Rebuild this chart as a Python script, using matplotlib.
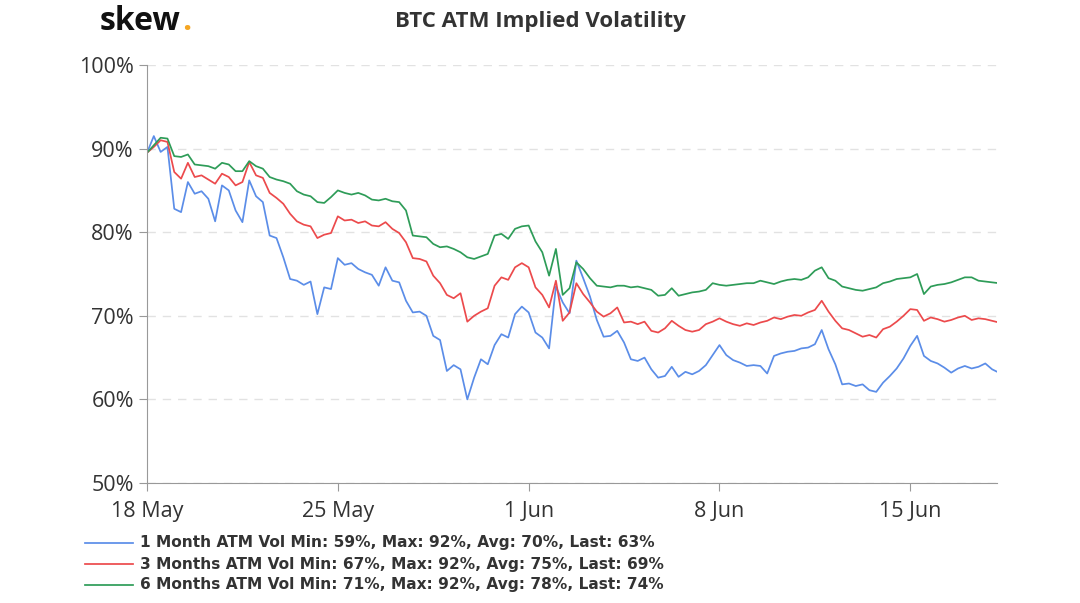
import matplotlib.pyplot as plt
from matplotlib.lines import Line2D
import numpy as np

# time axis: days since 18 May, one value every 6 hours
days = np.arange(126) * 0.25

vol_1m = [89.5, 91.5, 89.6, 90.2, 82.8, 82.4, 86.0, 84.6, 84.9, 84.0,
          81.3, 85.6, 85.0, 82.6, 81.2, 86.2, 84.3, 83.6, 79.6, 79.3,
          77.0, 74.4, 74.2, 73.7, 74.1, 70.2, 73.4, 73.2, 76.9, 76.1,
          76.3, 75.6, 75.2, 74.9, 73.6, 75.8, 74.2, 74.0, 71.8, 70.4,
          70.5, 70.0, 67.6, 67.1, 63.4, 64.1, 63.6, 60.0, 62.6, 64.8,
          64.2, 66.5, 67.8, 67.4, 70.2, 71.1, 70.4, 68.0, 67.4, 66.1,
          73.5, 71.6, 70.3, 76.6, 74.5, 72.3, 69.5, 67.5, 67.6, 68.2,
          66.8, 64.8, 64.6, 65.0, 63.6, 62.6, 62.8, 63.9, 62.7, 63.3,
          63.0, 63.4, 64.1, 65.3, 66.5, 65.3, 64.7, 64.4, 64.0, 64.1,
          64.0, 63.1, 65.2, 65.5, 65.7, 65.8, 66.1, 66.2, 66.6, 68.3,
          66.0, 64.2, 61.8, 61.9, 61.6, 61.8, 61.1, 60.9, 62.0, 62.8,
          63.7, 64.9, 66.4, 67.6, 65.2, 64.6, 64.3, 63.8, 63.2, 63.7,
          64.0, 63.7, 63.9, 64.3, 63.6, 63.2]

vol_3m = [89.5, 90.2, 91.0, 90.8, 87.2, 86.4, 88.3, 86.6, 86.8, 86.3,
          85.8, 87.0, 86.6, 85.6, 86.0, 88.4, 86.8, 86.5, 84.7, 84.1,
          83.4, 82.2, 81.3, 80.9, 80.7, 79.3, 79.7, 79.9, 81.9, 81.4,
          81.5, 81.1, 81.3, 80.8, 80.7, 81.2, 80.4, 79.9, 78.8, 76.9,
          76.8, 76.5, 74.8, 73.9, 72.5, 72.1, 72.7, 69.3, 70.0, 70.5,
          70.9, 73.6, 74.6, 74.3, 75.8, 76.3, 75.8, 73.4, 72.5, 71.0,
          74.2, 69.4, 70.4, 73.9, 72.6, 71.6, 70.5, 69.9, 70.3, 71.0,
          69.2, 69.3, 69.0, 69.3, 68.2, 68.0, 68.5, 69.4, 68.8, 68.3,
          68.1, 68.3, 69.0, 69.3, 69.7, 69.3, 69.0, 68.8, 69.1, 68.9,
          69.2, 69.4, 69.8, 69.6, 69.9, 70.1, 70.0, 70.4, 70.7, 71.8,
          70.5, 69.4, 68.5, 68.3, 67.9, 67.5, 67.7, 67.4, 68.4, 68.7,
          69.3, 70.0, 70.8, 70.7, 69.4, 69.8, 69.6, 69.3, 69.5, 69.8,
          70.0, 69.5, 69.7, 69.6, 69.4, 69.2]

vol_6m = [89.5, 90.4, 91.3, 91.2, 89.1, 89.0, 89.3, 88.1, 88.0, 87.9,
          87.6, 88.3, 88.1, 87.3, 87.3, 88.5, 87.9, 87.6, 86.6, 86.3,
          86.1, 85.8, 84.9, 84.5, 84.3, 83.6, 83.5, 84.2, 85.0, 84.7,
          84.5, 84.7, 84.4, 83.9, 83.8, 84.0, 83.7, 83.6, 82.6, 79.6,
          79.5, 79.4, 78.6, 78.2, 78.3, 78.0, 77.6, 77.0, 76.8, 77.1,
          77.4, 79.6, 79.8, 79.2, 80.4, 80.7, 80.8, 78.9, 77.6, 74.8,
          78.0, 72.5, 73.3, 76.4, 75.6, 74.5, 73.6, 73.5, 73.4, 73.6,
          73.6, 73.4, 73.5, 73.3, 73.1, 72.4, 72.5, 73.3, 72.4, 72.6,
          72.8, 72.9, 73.1, 73.9, 73.7, 73.6, 73.7, 73.8, 73.9, 73.9,
          74.2, 74.0, 73.8, 74.1, 74.3, 74.4, 74.3, 74.6, 75.4, 75.8,
          74.5, 74.2, 73.5, 73.3, 73.1, 73.0, 73.2, 73.4, 73.9, 74.1,
          74.4, 74.5, 74.6, 75.0, 72.6, 73.5, 73.7, 73.8, 74.0, 74.3,
          74.6, 74.6, 74.2, 74.1, 74.0, 73.9]

labels = ['1 Month ATM Vol Min: 59%, Max: 92%, Avg: 70%, Last: 63%',
          '3 Months ATM Vol Min: 67%, Max: 92%, Avg: 75%, Last: 69%',
          '6 Months ATM Vol Min: 71%, Max: 92%, Avg: 78%, Last: 74%']
colors = ['#5b8de8', '#ec4a4c', '#2e9c58']

x_ticks = [0, 7, 14, 21, 28]
x_labels = ['18 May', '25 May', '1 Jun', '8 Jun', '15 Jun']
y_ticks = [50, 60, 70, 80, 90, 100]

plt.rcParams['font.family'] = ['Open Sans', 'DejaVu Sans']

W, H = 1080, 603
fig = plt.figure(figsize=(10.8, 6.03), dpi=100)
ax = fig.add_axes([147 / W, 1 - 483 / H, 850 / W, 418 / H])

for vals, c, lab in zip([vol_1m, vol_3m, vol_6m], colors, labels):
    ax.plot(days, vals, color=c, lw=1.25, label=lab)

ax.set_xlim(0, 31.18)
ax.set_ylim(50, 100)
ax.set_xticks(x_ticks)
ax.set_xticklabels(x_labels)
ax.set_yticks(y_ticks)
ax.set_yticklabels([f'{v}%' for v in y_ticks])
ax.grid(axis='y', color='#e2e2e2', ls=(0, (6, 5)), lw=1)
ax.set_axisbelow(True)
for s in ['top', 'right']:
    ax.spines[s].set_visible(False)
for s in ['left', 'bottom']:
    ax.spines[s].set_color('#999999')
ax.tick_params(colors='#999999', labelcolor='#333333', labelsize=15.5, length=6)
ax.tick_params(axis='x', pad=7)

fig.text(0.5, 1 - 21 / H, 'BTC ATM Implied Volatility', ha='center', va='center',
         fontsize=16, fontweight='bold', color='#333333')

# logo
logo = fig.text(100 / W, 1 - 21 / H, 'skew', ha='left', va='center', fontsize=23,
                fontweight='bold', color='#111111')
r = fig.canvas.get_renderer()
bb = logo.get_window_extent(renderer=r)
fig.text(bb.x1 / W + 0.001, 1 - 21 / H, '.', ha='left', va='center', fontsize=23,
         fontweight='bold', color='#f5a623')

# legend below the chart
for k, (c, lab) in enumerate(zip(colors, labels)):
    yy = 1 - (543 + 21 * k) / H
    fig.add_artist(Line2D([85 / W, 133 / W], [yy, yy], color=c, lw=1.25))
    fig.text(140 / W, yy, lab, ha='left', va='center', fontsize=11.05,
             fontweight='bold', color='#333333', family='DejaVu Sans')

fig.savefig('out.png', dpi=100)
